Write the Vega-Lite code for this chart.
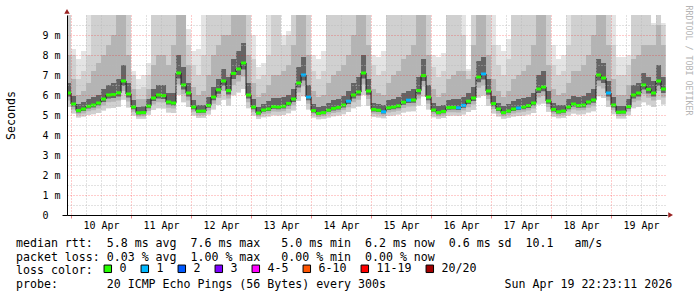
{
"$schema": "https://vega.github.io/schema/vega-lite/v6.json",
"width": 600, "height": 200,
"autosize": {"type": "none"},
"padding": {"left": 67, "top": 15, "right": 30, "bottom": 82},
"background": "white",
"config": {"view": {"stroke": null}},
"title": {
 "text": [
  "median\u00a0rtt:\u00a0\u00a05.8\u00a0ms\u00a0avg\u00a0\u00a07.6\u00a0ms\u00a0max\u00a0\u00a0\u00a05.0\u00a0ms\u00a0min\u00a0\u00a06.2\u00a0ms\u00a0now\u00a0\u00a00.6\u00a0ms\u00a0sd\u00a0\u00a010.1\u00a0\u00a0\u00a0am/s",
  "packet\u00a0loss:\u00a00.03\u00a0%\u00a0avg\u00a0\u00a01.00\u00a0%\u00a0max\u00a0\u00a0\u00a00.00\u00a0%\u00a0min\u00a0\u00a00.00\u00a0%\u00a0now",
  "loss\u00a0color:",
  "probe:\u00a0\u00a0\u00a0\u00a0\u00a0\u00a0\u00a020\u00a0ICMP\u00a0Echo\u00a0Pings\u00a0(56\u00a0Bytes)\u00a0every\u00a0300s\u00a0\u00a0\u00a0\u00a0\u00a0\u00a0\u00a0\u00a0\u00a0\u00a0\u00a0\u00a0\u00a0\u00a0\u00a0\u00a0\u00a0Sun\u00a0Apr\u00a019\u00a022:23:11\u00a02026"
 ],
 "orient": "bottom", "anchor": "start", "frame": "group", "align": "left",
 "font": "DejaVu Sans Mono", "fontSize": 11.6, "fontWeight": "normal", "color": "#000000",
 "lineHeight": 13.6, "offset": 4, "dx": -51, "dy": -41, "limit": 1000
},
"datasets": {
 "ping": [
{"t":"2026-04-09T22:00","m":6.1,"z":5.4,"a":5.72,"b":5.92,"c":6.6,"d":8,"e":10,"f":10,"loss":"0"},
{"t":"2026-04-10T00:00","m":5.55,"z":5.07,"a":5.28,"b":5.43,"c":5.95,"d":6.8,"e":8,"f":8.3,"loss":"0"},
{"t":"2026-04-10T02:00","m":5.22,"z":4.87,"a":5.02,"b":5.13,"c":5.55,"d":6,"e":6.8,"f":7.8,"loss":"0"},
{"t":"2026-04-10T04:00","m":5.3,"z":4.92,"a":5.08,"b":5.2,"c":5.65,"d":6.2,"e":7.2,"f":8.2,"loss":"0"},
{"t":"2026-04-10T06:00","m":5.44,"z":5,"a":5.19,"b":5.33,"c":5.8,"d":6.6,"e":8,"f":10,"loss":"0"},
{"t":"2026-04-10T08:00","m":5.5,"z":5.04,"a":5.24,"b":5.38,"c":5.9,"d":7.2,"e":10,"f":10,"loss":"0"},
{"t":"2026-04-10T10:00","m":5.6,"z":5.1,"a":5.32,"b":5.47,"c":6,"d":7.6,"e":10,"f":10,"loss":"0"},
{"t":"2026-04-10T12:00","m":5.8,"z":5.22,"a":5.48,"b":5.65,"c":6.3,"d":8,"e":10,"f":10,"loss":"0"},
{"t":"2026-04-10T14:00","m":6,"z":5.34,"a":5.64,"b":5.83,"c":6.5,"d":8.5,"e":10,"f":10,"loss":"0"},
{"t":"2026-04-10T16:00","m":6.02,"z":5.35,"a":5.66,"b":5.85,"c":6.6,"d":9,"e":10,"f":10,"loss":"0"},
{"t":"2026-04-10T18:00","m":6.11,"z":5.41,"a":5.73,"b":5.93,"c":6.8,"d":10,"e":10,"f":10,"loss":"0"},
{"t":"2026-04-10T20:00","m":6.7,"z":5.76,"a":6.2,"b":6.46,"c":7.5,"d":10,"e":10,"f":10,"loss":"0"},
{"t":"2026-04-10T22:00","m":6.05,"z":5.37,"a":5.68,"b":5.88,"c":6.6,"d":8,"e":10,"f":10,"loss":"0"},
{"t":"2026-04-11T00:00","m":5.4,"z":4.98,"a":5.16,"b":5.29,"c":5.75,"d":6.3,"e":7,"f":7.2,"loss":"0"},
{"t":"2026-04-11T02:00","m":5.11,"z":4.81,"a":4.93,"b":5.03,"c":5.4,"d":5.8,"e":6.3,"f":6.8,"loss":"0"},
{"t":"2026-04-11T04:00","m":5.12,"z":4.81,"a":4.94,"b":5.04,"c":5.42,"d":5.8,"e":6.4,"f":7,"loss":"0"},
{"t":"2026-04-11T06:00","m":5.45,"z":5.01,"a":5.2,"b":5.34,"c":5.8,"d":6.3,"e":7,"f":7.6,"loss":"0"},
{"t":"2026-04-11T08:00","m":5.85,"z":5.25,"a":5.52,"b":5.7,"c":6.3,"d":7.5,"e":10,"f":10,"loss":"0"},
{"t":"2026-04-11T10:00","m":6,"z":5.34,"a":5.64,"b":5.83,"c":6.5,"d":8,"e":10,"f":10,"loss":"0"},
{"t":"2026-04-11T12:00","m":5.97,"z":5.32,"a":5.62,"b":5.8,"c":6.5,"d":8,"e":10,"f":10,"loss":"0"},
{"t":"2026-04-11T14:00","m":5.65,"z":5.13,"a":5.36,"b":5.52,"c":6.1,"d":7.5,"e":10,"f":10,"loss":"0"},
{"t":"2026-04-11T16:00","m":5.6,"z":5.1,"a":5.32,"b":5.47,"c":6.1,"d":8.5,"e":10,"f":10,"loss":"0"},
{"t":"2026-04-11T18:00","m":7.1,"z":6,"a":6.52,"b":6.82,"c":8,"d":10,"e":10,"f":10,"loss":"0"},
{"t":"2026-04-11T20:00","m":6.5,"z":5.64,"a":6.04,"b":6.28,"c":7.4,"d":10,"e":10,"f":10,"loss":"0"},
{"t":"2026-04-11T22:00","m":6.1,"z":5.4,"a":5.72,"b":5.92,"c":6.6,"d":7.5,"e":8.5,"f":9.3,"loss":"0"},
{"t":"2026-04-12T00:00","m":5.4,"z":4.98,"a":5.16,"b":5.29,"c":5.75,"d":6.4,"e":7.5,"f":8.2,"loss":"0"},
{"t":"2026-04-12T02:00","m":5.19,"z":4.85,"a":4.99,"b":5.1,"c":5.5,"d":6,"e":7,"f":8.3,"loss":"0"},
{"t":"2026-04-12T04:00","m":5.2,"z":4.86,"a":5,"b":5.11,"c":5.5,"d":6.2,"e":8,"f":10,"loss":"0"},
{"t":"2026-04-12T06:00","m":5.48,"z":5.03,"a":5.22,"b":5.36,"c":5.9,"d":7,"e":10,"f":10,"loss":"0"},
{"t":"2026-04-12T08:00","m":5.9,"z":5.28,"a":5.56,"b":5.74,"c":6.4,"d":8,"e":10,"f":10,"loss":"0"},
{"t":"2026-04-12T10:00","m":6.26,"z":5.5,"a":5.85,"b":6.06,"c":6.8,"d":8.5,"e":10,"f":10,"loss":"0"},
{"t":"2026-04-12T12:00","m":6.7,"z":5.76,"a":6.2,"b":6.46,"c":7.3,"d":9,"e":10,"f":10,"loss":"0"},
{"t":"2026-04-12T14:00","m":6.22,"z":5.47,"a":5.82,"b":6.03,"c":6.9,"d":9,"e":10,"f":10,"loss":"0"},
{"t":"2026-04-12T16:00","m":7.08,"z":5.99,"a":6.5,"b":6.8,"c":7.8,"d":10,"e":10,"f":10,"loss":"0"},
{"t":"2026-04-12T18:00","m":7.3,"z":6.12,"a":6.68,"b":7,"c":8.2,"d":10,"e":10,"f":10,"loss":"0"},
{"t":"2026-04-12T20:00","m":7.6,"z":6.3,"a":6.92,"b":7.27,"c":8.6,"d":10,"e":10,"f":10,"loss":"0"},
{"t":"2026-04-12T22:00","m":6,"z":5.34,"a":5.64,"b":5.83,"c":6.6,"d":8,"e":10,"f":10,"loss":"0"},
{"t":"2026-04-13T00:00","m":5.4,"z":4.98,"a":5.16,"b":5.29,"c":5.8,"d":6.6,"e":7.8,"f":9,"loss":"0"},
{"t":"2026-04-13T02:00","m":5.1,"z":4.8,"a":4.92,"b":5.02,"c":5.4,"d":5.9,"e":6.8,"f":7.4,"loss":"0"},
{"t":"2026-04-13T04:00","m":5.25,"z":4.89,"a":5.04,"b":5.16,"c":5.55,"d":6.1,"e":7,"f":7.6,"loss":"0"},
{"t":"2026-04-13T06:00","m":5.3,"z":4.92,"a":5.08,"b":5.2,"c":5.7,"d":6.5,"e":8,"f":10,"loss":"0"},
{"t":"2026-04-13T08:00","m":5.42,"z":4.99,"a":5.18,"b":5.31,"c":5.85,"d":7,"e":10,"f":10,"loss":"0"},
{"t":"2026-04-13T10:00","m":5.4,"z":4.98,"a":5.16,"b":5.29,"c":5.85,"d":7,"e":10,"f":10,"loss":"0"},
{"t":"2026-04-13T12:00","m":5.44,"z":5,"a":5.19,"b":5.33,"c":5.9,"d":7.2,"e":8.5,"f":9,"loss":"0"},
{"t":"2026-04-13T14:00","m":5.58,"z":5.09,"a":5.3,"b":5.45,"c":6,"d":7.5,"e":9,"f":9.2,"loss":"0"},
{"t":"2026-04-13T16:00","m":5.8,"z":5.22,"a":5.48,"b":5.65,"c":6.3,"d":8.5,"e":10,"f":10,"loss":"0"},
{"t":"2026-04-13T18:00","m":6.6,"z":5.7,"a":6.12,"b":6.37,"c":7.4,"d":10,"e":10,"f":10,"loss":"0"},
{"t":"2026-04-13T20:00","m":7,"z":5.94,"a":6.44,"b":6.73,"c":7.9,"d":10,"e":10,"f":10,"loss":"1"},
{"t":"2026-04-13T22:00","m":5.9,"z":5.28,"a":5.56,"b":5.74,"c":6.5,"d":8,"e":10,"f":10,"loss":"1"},
{"t":"2026-04-14T00:00","m":5.22,"z":4.87,"a":5.02,"b":5.13,"c":5.55,"d":6.2,"e":7.2,"f":8,"loss":"0"},
{"t":"2026-04-14T02:00","m":5.08,"z":4.79,"a":4.9,"b":5,"c":5.4,"d":5.9,"e":6.8,"f":7.8,"loss":"0"},
{"t":"2026-04-14T04:00","m":5.12,"z":4.81,"a":4.94,"b":5.04,"c":5.45,"d":6,"e":7.2,"f":8.2,"loss":"0"},
{"t":"2026-04-14T06:00","m":5.24,"z":4.88,"a":5.03,"b":5.15,"c":5.6,"d":6.6,"e":10,"f":10,"loss":"0"},
{"t":"2026-04-14T08:00","m":5.33,"z":4.94,"a":5.1,"b":5.23,"c":5.75,"d":7,"e":10,"f":10,"loss":"0"},
{"t":"2026-04-14T10:00","m":5.38,"z":4.97,"a":5.14,"b":5.27,"c":5.8,"d":7.2,"e":10,"f":10,"loss":"0"},
{"t":"2026-04-14T12:00","m":5.5,"z":5.04,"a":5.24,"b":5.38,"c":5.95,"d":7.5,"e":10,"f":10,"loss":"0"},
{"t":"2026-04-14T14:00","m":5.69,"z":5.15,"a":5.39,"b":5.55,"c":6.2,"d":8,"e":10,"f":10,"loss":"1"},
{"t":"2026-04-14T16:00","m":6,"z":5.34,"a":5.64,"b":5.83,"c":6.6,"d":9,"e":10,"f":10,"loss":"0"},
{"t":"2026-04-14T18:00","m":6.15,"z":5.43,"a":5.76,"b":5.97,"c":6.9,"d":10,"e":10,"f":10,"loss":"0"},
{"t":"2026-04-14T20:00","m":7.1,"z":6,"a":6.52,"b":6.82,"c":8,"d":10,"e":10,"f":10,"loss":"0"},
{"t":"2026-04-14T22:00","m":6.2,"z":5.46,"a":5.8,"b":6.01,"c":6.8,"d":8.5,"e":10,"f":10,"loss":"0"},
{"t":"2026-04-15T00:00","m":5.28,"z":4.91,"a":5.06,"b":5.18,"c":5.6,"d":6.3,"e":7.5,"f":8,"loss":"0"},
{"t":"2026-04-15T02:00","m":5.24,"z":4.88,"a":5.03,"b":5.15,"c":5.55,"d":6.1,"e":7,"f":7.9,"loss":"0"},
{"t":"2026-04-15T04:00","m":5.16,"z":4.84,"a":4.97,"b":5.07,"c":5.5,"d":6,"e":7.2,"f":8.2,"loss":"1"},
{"t":"2026-04-15T06:00","m":5.36,"z":4.96,"a":5.13,"b":5.25,"c":5.75,"d":6.6,"e":10,"f":10,"loss":"0"},
{"t":"2026-04-15T08:00","m":5.4,"z":4.98,"a":5.16,"b":5.29,"c":5.8,"d":7,"e":10,"f":10,"loss":"0"},
{"t":"2026-04-15T10:00","m":5.46,"z":5.02,"a":5.21,"b":5.34,"c":5.9,"d":7.2,"e":10,"f":10,"loss":"0"},
{"t":"2026-04-15T12:00","m":5.64,"z":5.12,"a":5.35,"b":5.51,"c":6.1,"d":7.8,"e":10,"f":10,"loss":"0"},
{"t":"2026-04-15T14:00","m":5.74,"z":5.18,"a":5.43,"b":5.6,"c":6.2,"d":8,"e":10,"f":10,"loss":"1"},
{"t":"2026-04-15T16:00","m":5.75,"z":5.19,"a":5.44,"b":5.61,"c":6.3,"d":8.5,"e":10,"f":10,"loss":"0"},
{"t":"2026-04-15T18:00","m":6.22,"z":5.47,"a":5.82,"b":6.03,"c":6.9,"d":10,"e":10,"f":10,"loss":"0"},
{"t":"2026-04-15T20:00","m":6.97,"z":5.92,"a":6.42,"b":6.7,"c":7.8,"d":10,"e":10,"f":10,"loss":"0"},
{"t":"2026-04-15T22:00","m":5.9,"z":5.28,"a":5.56,"b":5.74,"c":6.5,"d":8,"e":10,"f":10,"loss":"0"},
{"t":"2026-04-16T00:00","m":5.25,"z":4.89,"a":5.04,"b":5.16,"c":5.6,"d":6.3,"e":7.4,"f":8,"loss":"0"},
{"t":"2026-04-16T02:00","m":5.12,"z":4.81,"a":4.94,"b":5.04,"c":5.45,"d":5.9,"e":6.9,"f":7.9,"loss":"0"},
{"t":"2026-04-16T04:00","m":5.18,"z":4.85,"a":4.98,"b":5.09,"c":5.5,"d":6.1,"e":7.2,"f":8.1,"loss":"0"},
{"t":"2026-04-16T06:00","m":5.37,"z":4.96,"a":5.14,"b":5.26,"c":5.75,"d":6.8,"e":10,"f":10,"loss":"0"},
{"t":"2026-04-16T08:00","m":5.38,"z":4.97,"a":5.14,"b":5.27,"c":5.8,"d":7,"e":10,"f":10,"loss":"0"},
{"t":"2026-04-16T10:00","m":5.36,"z":4.96,"a":5.13,"b":5.25,"c":5.8,"d":7.2,"e":10,"f":10,"loss":"1"},
{"t":"2026-04-16T12:00","m":5.48,"z":5.03,"a":5.22,"b":5.36,"c":5.9,"d":7.2,"e":9,"f":10,"loss":"1"},
{"t":"2026-04-16T14:00","m":5.69,"z":5.15,"a":5.39,"b":5.55,"c":6.1,"d":6.8,"e":7.2,"f":7.3,"loss":"0"},
{"t":"2026-04-16T16:00","m":5.85,"z":5.25,"a":5.52,"b":5.7,"c":6.4,"d":8.5,"e":10,"f":10,"loss":"0"},
{"t":"2026-04-16T18:00","m":6.9,"z":5.88,"a":6.36,"b":6.64,"c":7.7,"d":10,"e":10,"f":10,"loss":"0"},
{"t":"2026-04-16T20:00","m":7.05,"z":5.97,"a":6.48,"b":6.78,"c":7.9,"d":10,"e":10,"f":10,"loss":"1"},
{"t":"2026-04-16T22:00","m":6.2,"z":5.46,"a":5.8,"b":6.01,"c":6.8,"d":8,"e":10,"f":10,"loss":"0"},
{"t":"2026-04-17T00:00","m":5.57,"z":5.08,"a":5.3,"b":5.44,"c":5.95,"d":6.8,"e":8.5,"f":10,"loss":"0"},
{"t":"2026-04-17T02:00","m":5.3,"z":4.92,"a":5.08,"b":5.2,"c":5.6,"d":6.2,"e":7.5,"f":8.5,"loss":"0"},
{"t":"2026-04-17T04:00","m":5.12,"z":4.81,"a":4.94,"b":5.04,"c":5.45,"d":5.9,"e":7,"f":8.2,"loss":"0"},
{"t":"2026-04-17T06:00","m":5.2,"z":4.86,"a":5,"b":5.11,"c":5.55,"d":6.2,"e":7.8,"f":8.8,"loss":"0"},
{"t":"2026-04-17T08:00","m":5.3,"z":4.92,"a":5.08,"b":5.2,"c":5.7,"d":6.8,"e":10,"f":10,"loss":"0"},
{"t":"2026-04-17T10:00","m":5.35,"z":4.95,"a":5.12,"b":5.25,"c":5.8,"d":7,"e":10,"f":10,"loss":"1"},
{"t":"2026-04-17T12:00","m":5.4,"z":4.98,"a":5.16,"b":5.29,"c":5.85,"d":7.2,"e":10,"f":10,"loss":"0"},
{"t":"2026-04-17T14:00","m":5.47,"z":5.02,"a":5.22,"b":5.35,"c":5.9,"d":7.5,"e":10,"f":10,"loss":"0"},
{"t":"2026-04-17T16:00","m":5.6,"z":5.1,"a":5.32,"b":5.47,"c":6.1,"d":8.5,"e":10,"f":10,"loss":"0"},
{"t":"2026-04-17T18:00","m":6.3,"z":5.52,"a":5.88,"b":6.1,"c":7,"d":10,"e":10,"f":10,"loss":"0"},
{"t":"2026-04-17T20:00","m":6.4,"z":5.58,"a":5.96,"b":6.19,"c":7.2,"d":10,"e":10,"f":10,"loss":"0"},
{"t":"2026-04-17T22:00","m":5.7,"z":5.16,"a":5.4,"b":5.56,"c":6.2,"d":7.5,"e":10,"f":10,"loss":"0"},
{"t":"2026-04-18T00:00","m":5.28,"z":4.91,"a":5.06,"b":5.18,"c":5.6,"d":6.3,"e":7.5,"f":8.5,"loss":"0"},
{"t":"2026-04-18T02:00","m":5.16,"z":4.84,"a":4.97,"b":5.07,"c":5.5,"d":6,"e":7,"f":7.8,"loss":"0"},
{"t":"2026-04-18T04:00","m":5.2,"z":4.86,"a":5,"b":5.11,"c":5.5,"d":6.1,"e":7.2,"f":8,"loss":"0"},
{"t":"2026-04-18T06:00","m":5.4,"z":4.98,"a":5.16,"b":5.29,"c":5.8,"d":6.6,"e":8.5,"f":10,"loss":"0"},
{"t":"2026-04-18T08:00","m":5.55,"z":5.07,"a":5.28,"b":5.43,"c":5.95,"d":7.2,"e":10,"f":10,"loss":"0"},
{"t":"2026-04-18T10:00","m":5.48,"z":5.03,"a":5.22,"b":5.36,"c":5.9,"d":7.2,"e":10,"f":10,"loss":"0"},
{"t":"2026-04-18T12:00","m":5.5,"z":5.04,"a":5.24,"b":5.38,"c":5.95,"d":7.5,"e":10,"f":10,"loss":"0"},
{"t":"2026-04-18T14:00","m":5.65,"z":5.13,"a":5.36,"b":5.52,"c":6.1,"d":8,"e":10,"f":10,"loss":"0"},
{"t":"2026-04-18T16:00","m":5.75,"z":5.19,"a":5.44,"b":5.61,"c":6.3,"d":9,"e":10,"f":10,"loss":"0"},
{"t":"2026-04-18T18:00","m":7,"z":5.94,"a":6.44,"b":6.73,"c":7.8,"d":10,"e":10,"f":10,"loss":"0"},
{"t":"2026-04-18T20:00","m":6.85,"z":5.85,"a":6.32,"b":6.6,"c":7.6,"d":10,"e":10,"f":10,"loss":"0"},
{"t":"2026-04-18T22:00","m":6.1,"z":5.4,"a":5.72,"b":5.92,"c":6.7,"d":8.5,"e":10,"f":10,"loss":"1"},
{"t":"2026-04-19T00:00","m":5.5,"z":5.04,"a":5.24,"b":5.38,"c":5.9,"d":6.8,"e":8.5,"f":10,"loss":"0"},
{"t":"2026-04-19T02:00","m":5.14,"z":4.82,"a":4.95,"b":5.06,"c":5.45,"d":6,"e":7,"f":7.9,"loss":"0"},
{"t":"2026-04-19T04:00","m":5.15,"z":4.83,"a":4.96,"b":5.07,"c":5.45,"d":6,"e":7,"f":7.9,"loss":"0"},
{"t":"2026-04-19T06:00","m":5.42,"z":4.99,"a":5.18,"b":5.31,"c":5.8,"d":6.5,"e":7.5,"f":8,"loss":"0"},
{"t":"2026-04-19T08:00","m":6,"z":5.34,"a":5.64,"b":5.83,"c":6.5,"d":7.8,"e":10,"f":10,"loss":"0"},
{"t":"2026-04-19T10:00","m":6.1,"z":5.4,"a":5.72,"b":5.92,"c":6.6,"d":8,"e":10,"f":10,"loss":"0"},
{"t":"2026-04-19T12:00","m":6.5,"z":5.64,"a":6.04,"b":6.28,"c":7.1,"d":8.5,"e":10,"f":10,"loss":"0"},
{"t":"2026-04-19T14:00","m":6.28,"z":5.51,"a":5.86,"b":6.08,"c":6.9,"d":8.5,"e":10,"f":10,"loss":"0"},
{"t":"2026-04-19T16:00","m":6.1,"z":5.4,"a":5.72,"b":5.92,"c":6.7,"d":8.5,"e":9.5,"f":9.6,"loss":"0"},
{"t":"2026-04-19T18:00","m":6.7,"z":5.76,"a":6.2,"b":6.46,"c":7.5,"d":9.5,"e":10,"f":10,"loss":"0"},
{"t":"2026-04-19T20:00","m":6.3,"z":5.52,"a":5.88,"b":6.1,"c":6.9,"d":8.5,"e":9.5,"f":9.6,"loss":"0"},
{"t":"2026-04-19T21:50","m":6.3,"z":5.52,"a":5.88,"b":6.1,"c":6.9,"d":8.5,"e":9.5,"f":9.6}
 ]
},
"data": {"name": "ping"},
"resolve": {"axis": {"x": "independent", "y": "independent"}},
"layer": [
 {
  "mark": {"type": "area", "interpolate": "step-after", "color": "#e4e4e4", "clip": true},
  "encoding": {
   "x": {"field": "t", "type": "temporal",
    "scale": {"domain": [{"year":2026,"month":4,"date":9,"hours":22,"minutes":23,"seconds":11},{"year":2026,"month":4,"date":19,"hours":22,"minutes":23,"seconds":11}]},
    "axis": {"orient": "bottom", "title": null, "labels": false,
     "values": [{"year":2026,"month":4,"date":10},{"year":2026,"month":4,"date":11},{"year":2026,"month":4,"date":12},{"year":2026,"month":4,"date":13},{"year":2026,"month":4,"date":14},{"year":2026,"month":4,"date":15},{"year":2026,"month":4,"date":16},{"year":2026,"month":4,"date":17},{"year":2026,"month":4,"date":18},{"year":2026,"month":4,"date":19}],
     "ticks": true, "tickSize": 3, "tickColor": "#f08080",
     "grid": true, "gridColor": "#ff0000", "gridOpacity": 0.4, "gridDash": [1, 2],
     "domain": true, "domainColor": "#000000", "zindex": 1}},
   "y": {"field": "z", "type": "quantitative",
    "scale": {"domain": [0, 10], "nice": false, "zero": true},
    "axis": {"orient": "left", "values": [0,1,2,3,4,5,6,7,8,9],
     "labelExpr": "datum.value == 0 ? '0' : datum.value + '\u00a0m'",
     "labelFont": "DejaVu Sans Mono", "labelFontSize": 10, "labelColor": "#000000",
     "labelPadding": {"condition": {"test": "datum.value === 0", "value": 14}, "value": 2},
     "ticks": true, "tickSize": 5, "tickColor": {"condition": {"test": "datum.value === 0", "value": "#000000"}, "value": "transparent"},
     "grid": true, "gridColor": "#ff0000", "gridOpacity": 0.4, "gridDash": [1, 2],
     "domain": true, "domainColor": "#000000",
     "title": "Seconds", "titleFont": "DejaVu Sans Mono", "titleFontSize": 11.6, "titleFontWeight": "normal", "titleColor": "#000000",
     "titleX": -56, "titleY": 100, "titleAngle": 270, "titleAlign": "center", "titleBaseline": "middle", "zindex": 1}},
   "y2": {"field": "f"}
  }
 },
 {
  "mark": {"type": "area", "interpolate": "step-after", "color": "#d0d0d0", "clip": true},
  "encoding": {
   "x": {"field": "t", "type": "temporal",
    "axis": {"orient": "bottom", "title": null, "format": "%d %b",
     "values": [{"year":2026,"month":4,"date":10,"hours":12},{"year":2026,"month":4,"date":11,"hours":12},{"year":2026,"month":4,"date":12,"hours":12},{"year":2026,"month":4,"date":13,"hours":12},{"year":2026,"month":4,"date":14,"hours":12},{"year":2026,"month":4,"date":15,"hours":12},{"year":2026,"month":4,"date":16,"hours":12},{"year":2026,"month":4,"date":17,"hours":12},{"year":2026,"month":4,"date":18,"hours":12},{"year":2026,"month":4,"date":19,"hours":12}],
     "labelFont": "DejaVu Sans Mono", "labelFontSize": 10, "labelColor": "#000000", "labelPadding": 5,
     "labelFlush": false, "labelOverlap": false, "ticks": false, "domain": false, "grid": false}},
   "y": {"field": "z", "type": "quantitative",
    "axis": {"orient": "left", "values": [0.5,1.5,2.5,3.5,4.5,5.5,6.5,7.5,8.5,9.5], "labels": false, "ticks": false, "domain": false, "title": null,
     "grid": true, "gridColor": "#b8b8b8", "gridOpacity": 0.8, "gridDash": [1, 2], "zindex": 1}},
   "y2": {"field": "e"}
  }
 },
 {
  "mark": {"type": "area", "interpolate": "step-after", "color": "#b4b4b4", "clip": true},
  "encoding": {
   "x": {"field": "t", "type": "temporal",
    "axis": {"orient": "bottom", "title": null, "labels": false, "ticks": false, "domain": false,
     "values": [{"year":2026,"month":4,"date":10,"hours":6},{"year":2026,"month":4,"date":10,"hours":12},{"year":2026,"month":4,"date":10,"hours":18},
      {"year":2026,"month":4,"date":11,"hours":6},{"year":2026,"month":4,"date":11,"hours":12},{"year":2026,"month":4,"date":11,"hours":18},
      {"year":2026,"month":4,"date":12,"hours":6},{"year":2026,"month":4,"date":12,"hours":12},{"year":2026,"month":4,"date":12,"hours":18},
      {"year":2026,"month":4,"date":13,"hours":6},{"year":2026,"month":4,"date":13,"hours":12},{"year":2026,"month":4,"date":13,"hours":18},
      {"year":2026,"month":4,"date":14,"hours":6},{"year":2026,"month":4,"date":14,"hours":12},{"year":2026,"month":4,"date":14,"hours":18},
      {"year":2026,"month":4,"date":15,"hours":6},{"year":2026,"month":4,"date":15,"hours":12},{"year":2026,"month":4,"date":15,"hours":18},
      {"year":2026,"month":4,"date":16,"hours":6},{"year":2026,"month":4,"date":16,"hours":12},{"year":2026,"month":4,"date":16,"hours":18},
      {"year":2026,"month":4,"date":17,"hours":6},{"year":2026,"month":4,"date":17,"hours":12},{"year":2026,"month":4,"date":17,"hours":18},
      {"year":2026,"month":4,"date":18,"hours":6},{"year":2026,"month":4,"date":18,"hours":12},{"year":2026,"month":4,"date":18,"hours":18},
      {"year":2026,"month":4,"date":19,"hours":6},{"year":2026,"month":4,"date":19,"hours":12},{"year":2026,"month":4,"date":19,"hours":18}],
     "grid": true, "gridColor": "#b8b8b8", "gridOpacity": 0.8, "gridDash": [1, 2], "zindex": 1}},
   "y": {"field": "a", "type": "quantitative",
    "axis": {"orient": "right", "values": [], "labels": false, "ticks": false, "domain": false, "grid": false,
     "title": "RRDTOOL / TOBI OETIKER", "titleFont": "DejaVu Sans Mono", "titleFontSize": 8.3, "titleFontWeight": "normal", "titleColor": "#b4b4b4",
     "titleAngle": 90, "titleX": 20, "titleY": 45, "titleAlign": "center", "titleBaseline": "middle"}},
   "y2": {"field": "d"}
  }
 },
 {
  "mark": {"type": "area", "interpolate": "step-after", "color": "#646464", "clip": true},
  "encoding": {
   "x": {"field": "t", "type": "temporal", "axis": null},
   "y": {"field": "b", "type": "quantitative", "axis": null},
   "y2": {"field": "c"}
  }
 },
 {
  "mark": {"type": "line", "interpolate": "step-after", "color": "#1a1a1a", "strokeWidth": 1, "clip": true},
  "encoding": {
   "x": {"field": "t", "type": "temporal", "axis": null},
   "y": {"field": "m", "type": "quantitative", "axis": null}
  }
 },
 {
  "transform": [{"filter": "isValid(datum.loss)"}],
  "mark": {"type": "tick", "orient": "horizontal", "size": 5, "thickness": 3, "xOffset": 2.5, "opacity": 1, "clip": true},
  "encoding": {
   "x": {"field": "t", "type": "temporal", "axis": null},
   "y": {"field": "m", "type": "quantitative", "axis": null},
   "color": {"field": "loss", "type": "nominal",
    "scale": {"domain": ["0","1","2","3","4-5","6-10","11-19","20/20"], "range": ["#26ff00","#00b8ff","#0059ff","#7e00ff","#ff00ff","#ff5500","#ff0000","#a00000"]},
    "legend": {"orient": "none", "legendX": 35, "legendY": 248, "direction": "horizontal", "title": null, "gridAlign": "none",
     "symbolType": "square", "symbolSize": 56, "symbolStrokeColor": "#000000", "symbolStrokeWidth": 1, "symbolOpacity": 1,
     "labelFont": "DejaVu Sans Mono", "labelFontSize": 11.6, "labelColor": "#000000", "labelOffset": 6, "columnPadding": 12, "padding": 0, "labelLimit": 0}}
  }
 },
 {
  "data": {"values": [{"t": "2026-04-09T22:23:11", "v": 10.18}]},
  "mark": {"type": "point", "shape": "triangle-up", "filled": true, "color": "#992222", "size": 30, "opacity": 1},
  "encoding": {
   "x": {"field": "t", "type": "temporal", "axis": null},
   "y": {"field": "v", "type": "quantitative", "axis": null}
  }
 },
 {
  "data": {"values": [{"t": "2026-04-19T23:50", "v": 0}]},
  "mark": {"type": "point", "shape": "triangle-right", "filled": true, "color": "#992222", "size": 30, "opacity": 1},
  "encoding": {
   "x": {"field": "t", "type": "temporal", "axis": null},
   "y": {"field": "v", "type": "quantitative", "axis": null}
  }
 }
]
}
